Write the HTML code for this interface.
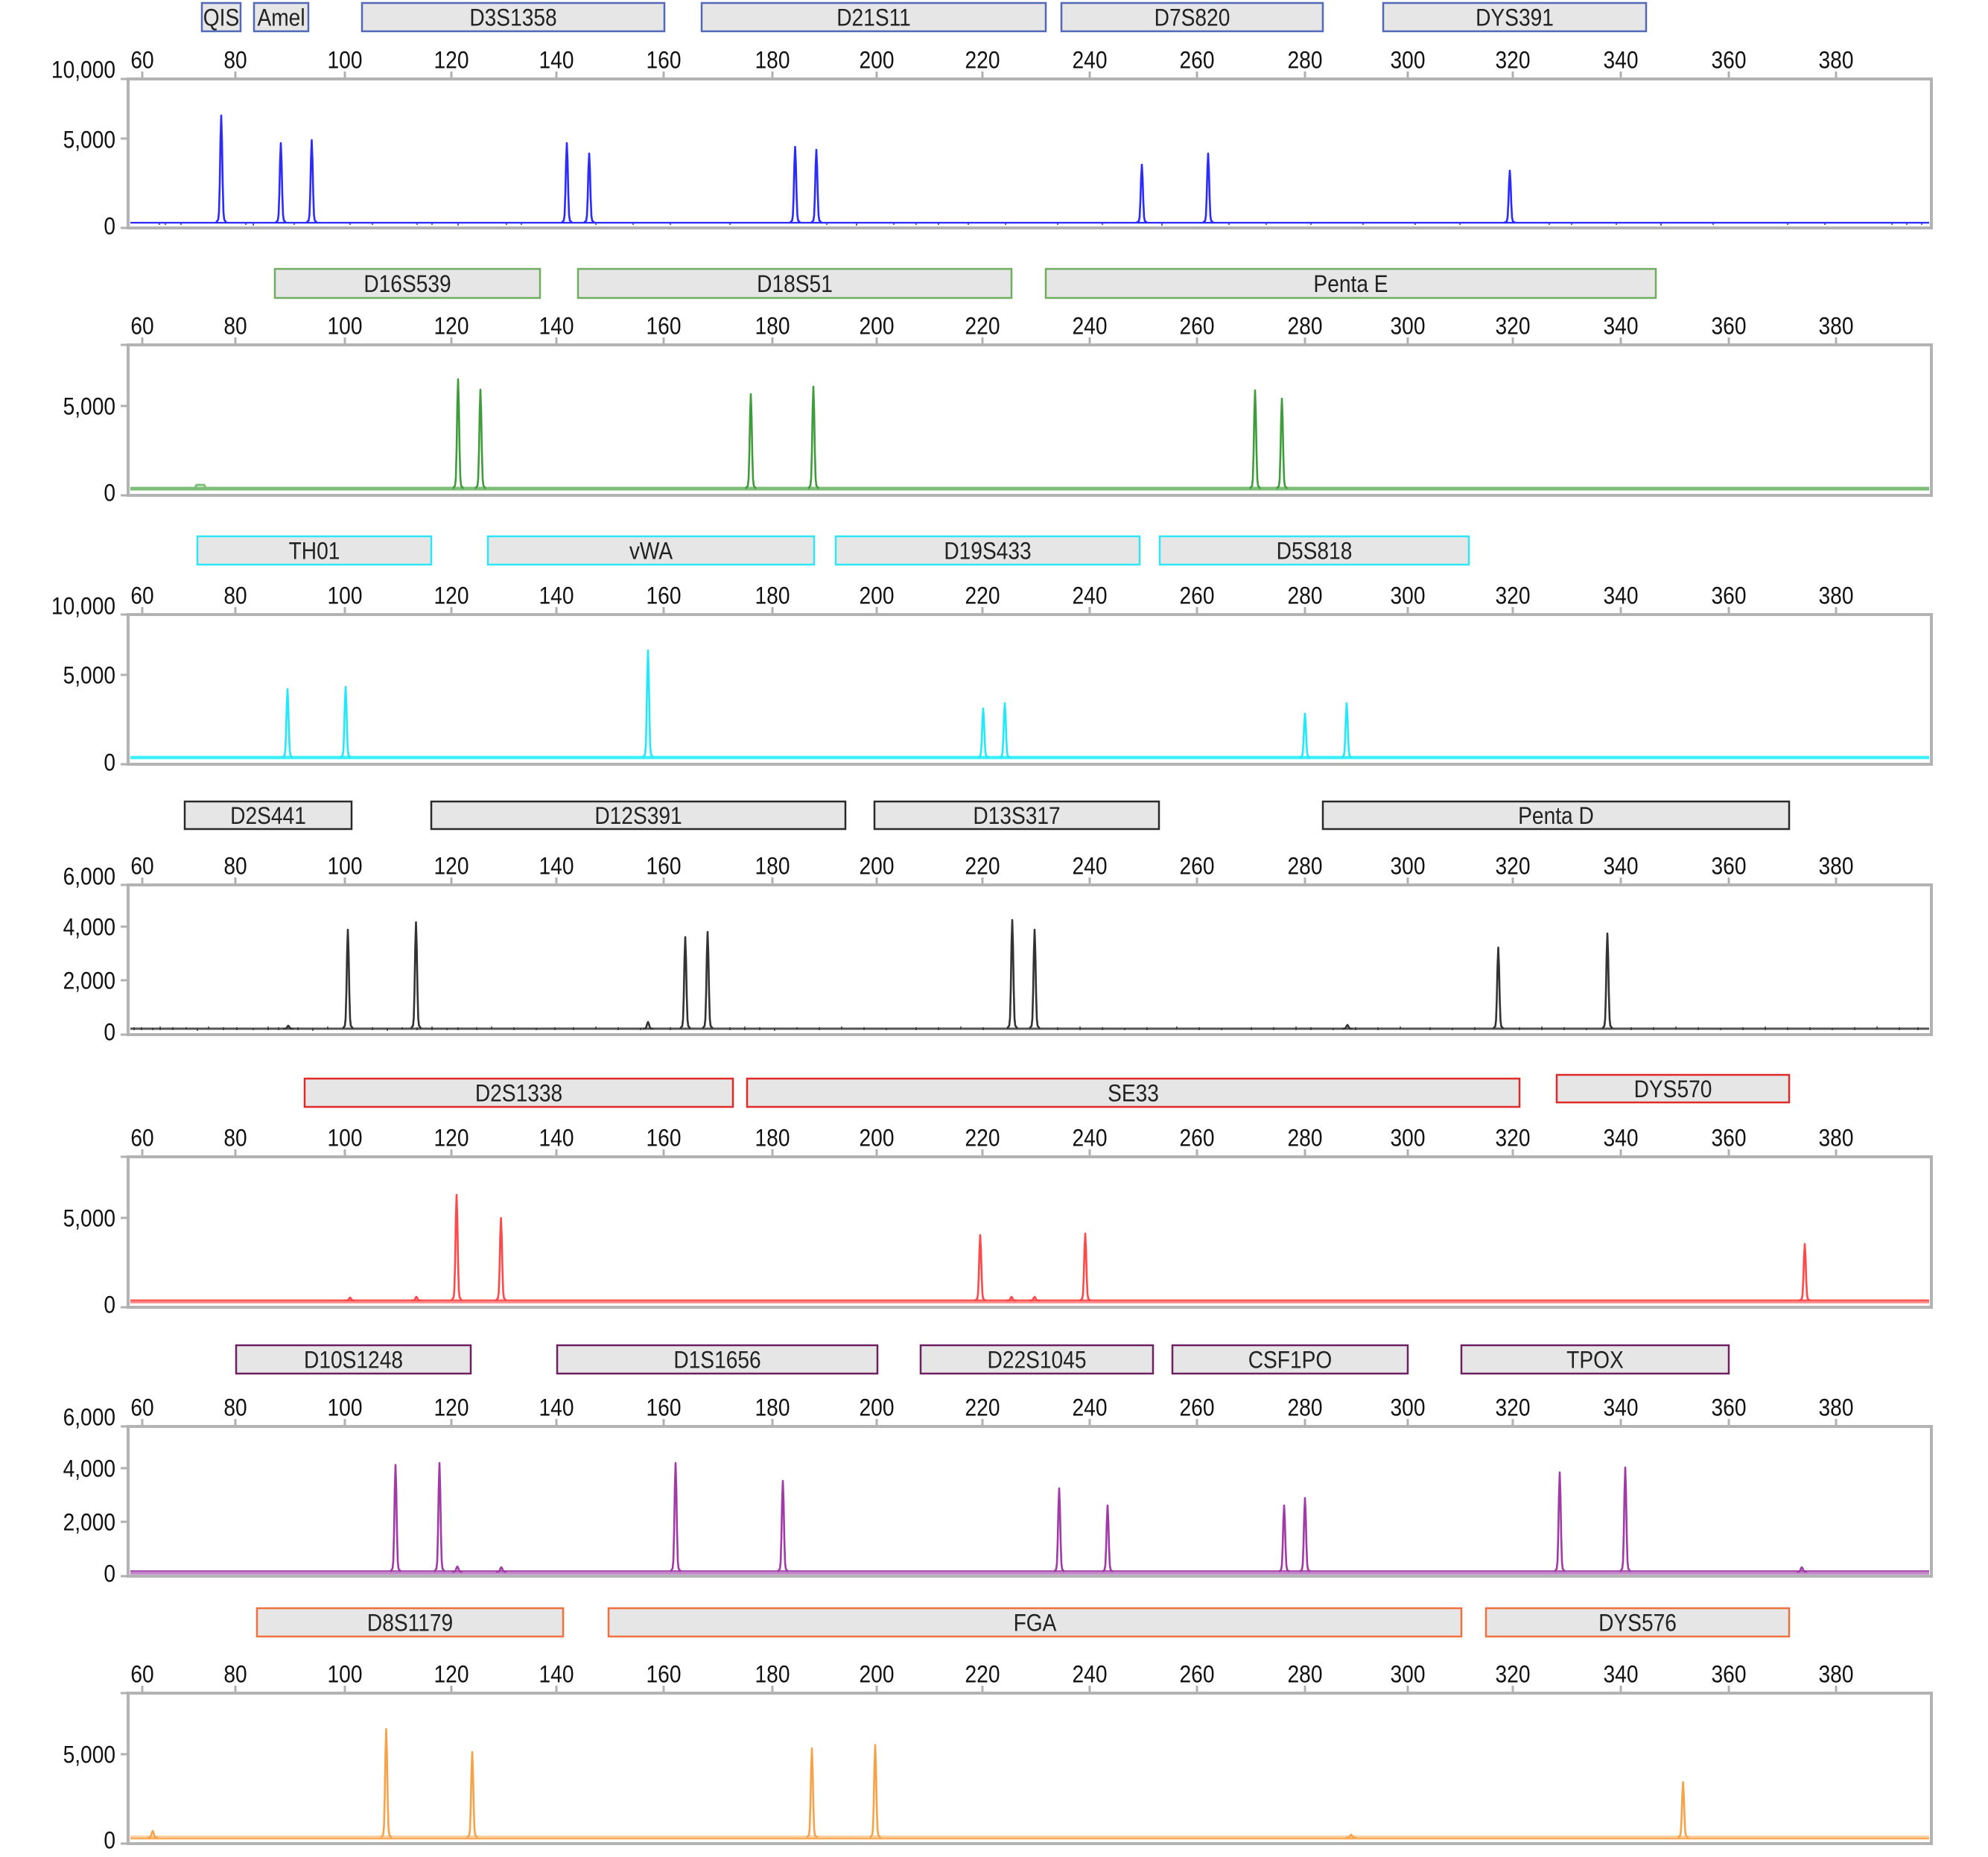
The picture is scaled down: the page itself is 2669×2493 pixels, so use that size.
<!DOCTYPE html>
<html><head><meta charset="utf-8"><style>
html,body{margin:0;padding:0;background:#fff;}
svg{display:block}
text{font-family:"Liberation Sans",Arial,sans-serif;font-size:32px;}
.tl{fill:#111;text-anchor:middle}
.yl{fill:#111;text-anchor:end}
.bl{fill:#222;text-anchor:middle}
.frame{fill:#fff;stroke:#b3b3b3;stroke-width:4}
.tk{stroke:#b0b0b0;stroke-width:3;fill:none}
</style></head><body>
<svg width="2669" height="2493" viewBox="0 0 2669 2493" xmlns="http://www.w3.org/2000/svg">
<defs>
<path id="pk" d="M-7 0 L-4 -0.03 L-3 -0.1 L-2 -0.36 L-1 -0.77 L0 -1 L1 -0.77 L2 -0.36 L3 -0.1 L4 -0.03 L7 0" fill="none" vector-effect="non-scaling-stroke"/>
</defs>
<rect width="2669" height="2493" fill="#fff"/>

<!-- ================= PANEL 1 (blue) ================= -->
<g transform="translate(0,106)">
<g stroke="#5468b8" stroke-width="2.5" fill="#e6e6e6">
<rect x="271" y="-102" width="52" height="38"/><rect x="341" y="-102" width="73" height="38"/><rect x="486" y="-102" width="406" height="38"/><rect x="942" y="-102" width="462" height="38"/><rect x="1425" y="-102" width="351" height="38"/><rect x="1857" y="-102" width="353" height="38"/>
</g>
<text class="bl" transform="translate(297 -71.5) scale(.88 1)">QIS</text>
<text class="bl" transform="translate(377.5 -71.5) scale(.88 1)">Amel</text>
<text class="bl" transform="translate(689 -71.5) scale(.88 1)">D3S1358</text>
<text class="bl" transform="translate(1173 -71.5) scale(.88 1)">D21S11</text>
<text class="bl" transform="translate(1600.5 -71.5) scale(.88 1)">D7S820</text>
<text class="bl" transform="translate(2033.5 -71.5) scale(.88 1)">DYS391</text>
<path class="tk" d="M191-10v10M316-10v10M463-10v10M606-10v10M747-10v10M891-10v10M1037-10v10M1177-10v10M1319-10v10M1463-10v10M1607-10v10M1752-10v10M1890-10v10M2031-10v10M2176-10v10M2321-10v10M2465-10v10"/>
<text class="tl" transform="translate(191 -14.5) scale(.88 1)">60</text><text class="tl" transform="translate(316 -14.5) scale(.88 1)">80</text><text class="tl" transform="translate(463 -14.5) scale(.88 1)">100</text><text class="tl" transform="translate(606 -14.5) scale(.88 1)">120</text><text class="tl" transform="translate(747 -14.5) scale(.88 1)">140</text><text class="tl" transform="translate(891 -14.5) scale(.88 1)">160</text><text class="tl" transform="translate(1037 -14.5) scale(.88 1)">180</text><text class="tl" transform="translate(1177 -14.5) scale(.88 1)">200</text><text class="tl" transform="translate(1319 -14.5) scale(.88 1)">220</text><text class="tl" transform="translate(1463 -14.5) scale(.88 1)">240</text><text class="tl" transform="translate(1607 -14.5) scale(.88 1)">260</text><text class="tl" transform="translate(1752 -14.5) scale(.88 1)">280</text><text class="tl" transform="translate(1890 -14.5) scale(.88 1)">300</text><text class="tl" transform="translate(2031 -14.5) scale(.88 1)">320</text><text class="tl" transform="translate(2176 -14.5) scale(.88 1)">340</text><text class="tl" transform="translate(2321 -14.5) scale(.88 1)">360</text><text class="tl" transform="translate(2465 -14.5) scale(.88 1)">380</text>
<rect class="frame" x="172" y="0" width="2421" height="200"/>
<path class="tk" d="M162 0h10M162 200h10M162 80h10"/>
<text class="yl" transform="translate(155 -1.5) scale(.88 1)">10,000</text>
<text class="yl" transform="translate(155 92.5) scale(.88 1)">5,000</text>
<text class="yl" transform="translate(155 208.5) scale(.88 1)">0</text>
<g stroke="#2b2bff" stroke-width="2.6" fill="none" stroke-linejoin="round">
<path stroke-width="2.2" d="M175 193H2590"/>
<path stroke-width="1.5" d="M214 193v3M222 193v3M243 193v3M330 193v3M340 193v4M395 193v3M470 193v3M500 193v3M560 193v3M580 193v3M615 193v4M680 193v3M700 193v3M800 193v3M850 193v3M900 193v3M980 193v3M1110 193v3M1150 193v4M1200 193v3M1230 193v3M1260 193v3M1300 193v3M1350 193v3M1420 193v3M1480 193v3M1560 193v4M1650 193v3M1700 193v3M1760 193v3M1830 193v3M1900 193v3M1960 193v3M2080 193v3M2110 193v3M2170 193v3M2230 193v4M2300 193v3M2400 193v3M2450 193v3M2540 193v3M2560 193v3M2580 193v3"/>
<use href="#pk" transform="translate(297 193) scale(1 144)"/>
<use href="#pk" transform="translate(377 193) scale(1 107)"/>
<use href="#pk" transform="translate(418.5 193) scale(1 111)"/>
<use href="#pk" transform="translate(761 193) scale(1 107)"/>
<use href="#pk" transform="translate(791 193) scale(1 93)"/>
<use href="#pk" transform="translate(1067.5 193) scale(1 102)"/>
<use href="#pk" transform="translate(1096 193) scale(1 98)"/>
<use href="#pk" transform="translate(1533 193) scale(1 78)"/>
<use href="#pk" transform="translate(1622 193) scale(1 93)"/>
<use href="#pk" transform="translate(2027 193) scale(1 70)"/>
</g>
</g>

<!-- ================= PANEL 2 (green) ================= -->
<g transform="translate(0,463)">
<g stroke="#6fae5f" stroke-width="2.5" fill="#e6e6e6">
<rect x="369" y="-102" width="356" height="39"/><rect x="776" y="-102" width="582" height="39"/><rect x="1404" y="-102" width="819" height="39"/>
</g>
<text class="bl" transform="translate(547 -71) scale(.88 1)">D16S539</text>
<text class="bl" transform="translate(1067 -71) scale(.88 1)">D18S51</text>
<text class="bl" transform="translate(1813.5 -71) scale(.88 1)">Penta E</text>
<path class="tk" d="M191-10v10M316-10v10M463-10v10M606-10v10M747-10v10M891-10v10M1037-10v10M1177-10v10M1319-10v10M1463-10v10M1607-10v10M1752-10v10M1890-10v10M2031-10v10M2176-10v10M2321-10v10M2465-10v10"/>
<text class="tl" transform="translate(191 -14.5) scale(.88 1)">60</text><text class="tl" transform="translate(316 -14.5) scale(.88 1)">80</text><text class="tl" transform="translate(463 -14.5) scale(.88 1)">100</text><text class="tl" transform="translate(606 -14.5) scale(.88 1)">120</text><text class="tl" transform="translate(747 -14.5) scale(.88 1)">140</text><text class="tl" transform="translate(891 -14.5) scale(.88 1)">160</text><text class="tl" transform="translate(1037 -14.5) scale(.88 1)">180</text><text class="tl" transform="translate(1177 -14.5) scale(.88 1)">200</text><text class="tl" transform="translate(1319 -14.5) scale(.88 1)">220</text><text class="tl" transform="translate(1463 -14.5) scale(.88 1)">240</text><text class="tl" transform="translate(1607 -14.5) scale(.88 1)">260</text><text class="tl" transform="translate(1752 -14.5) scale(.88 1)">280</text><text class="tl" transform="translate(1890 -14.5) scale(.88 1)">300</text><text class="tl" transform="translate(2031 -14.5) scale(.88 1)">320</text><text class="tl" transform="translate(2176 -14.5) scale(.88 1)">340</text><text class="tl" transform="translate(2321 -14.5) scale(.88 1)">360</text><text class="tl" transform="translate(2465 -14.5) scale(.88 1)">380</text>
<rect class="frame" x="172" y="0" width="2421" height="202"/>
<path class="tk" d="M162 0h10M162 202h10M162 82h10"/>
<text class="yl" transform="translate(155 93.5) scale(.88 1)">5,000</text>
<text class="yl" transform="translate(155 209.5) scale(.88 1)">0</text>
<path d="M175 193H2590" stroke="#7dbf79" stroke-width="5" fill="none"/>
<path d="M261 193l3 -5h10l3 5" stroke="#7dbf79" stroke-width="3" fill="none"/>
<g stroke="#3f9c3b" stroke-width="2.6" fill="none" stroke-linejoin="round">
<use href="#pk" transform="translate(615 193) scale(1 147)"/>
<use href="#pk" transform="translate(645 193) scale(1 133)"/>
<use href="#pk" transform="translate(1008 193) scale(1 127)"/>
<use href="#pk" transform="translate(1092 193) scale(1 137)"/>
<use href="#pk" transform="translate(1685 193) scale(1 132)"/>
<use href="#pk" transform="translate(1721 193) scale(1 121)"/>
</g>
</g>

<!-- ================= PANEL 3 (cyan) ================= -->
<g transform="translate(0,825)">
<g stroke="#2fe6f6" stroke-width="2.5" fill="#e6e6e6">
<rect x="265" y="-105" width="314" height="38"/><rect x="655" y="-105" width="438" height="38"/><rect x="1122" y="-105" width="408" height="38"/><rect x="1557" y="-105" width="415" height="38"/>
</g>
<text class="bl" transform="translate(422 -74.5) scale(.88 1)">TH01</text>
<text class="bl" transform="translate(874 -74.5) scale(.88 1)">vWA</text>
<text class="bl" transform="translate(1326 -74.5) scale(.88 1)">D19S433</text>
<text class="bl" transform="translate(1764.5 -74.5) scale(.88 1)">D5S818</text>
<path class="tk" d="M191-10v10M316-10v10M463-10v10M606-10v10M747-10v10M891-10v10M1037-10v10M1177-10v10M1319-10v10M1463-10v10M1607-10v10M1752-10v10M1890-10v10M2031-10v10M2176-10v10M2321-10v10M2465-10v10"/>
<text class="tl" transform="translate(191 -14.5) scale(.88 1)">60</text><text class="tl" transform="translate(316 -14.5) scale(.88 1)">80</text><text class="tl" transform="translate(463 -14.5) scale(.88 1)">100</text><text class="tl" transform="translate(606 -14.5) scale(.88 1)">120</text><text class="tl" transform="translate(747 -14.5) scale(.88 1)">140</text><text class="tl" transform="translate(891 -14.5) scale(.88 1)">160</text><text class="tl" transform="translate(1037 -14.5) scale(.88 1)">180</text><text class="tl" transform="translate(1177 -14.5) scale(.88 1)">200</text><text class="tl" transform="translate(1319 -14.5) scale(.88 1)">220</text><text class="tl" transform="translate(1463 -14.5) scale(.88 1)">240</text><text class="tl" transform="translate(1607 -14.5) scale(.88 1)">260</text><text class="tl" transform="translate(1752 -14.5) scale(.88 1)">280</text><text class="tl" transform="translate(1890 -14.5) scale(.88 1)">300</text><text class="tl" transform="translate(2031 -14.5) scale(.88 1)">320</text><text class="tl" transform="translate(2176 -14.5) scale(.88 1)">340</text><text class="tl" transform="translate(2321 -14.5) scale(.88 1)">360</text><text class="tl" transform="translate(2465 -14.5) scale(.88 1)">380</text>
<rect class="frame" x="172" y="0" width="2421" height="201"/>
<path class="tk" d="M162 0h10M162 201h10M162 81h10"/>
<text class="yl" transform="translate(155 -0.5) scale(.88 1)">10,000</text>
<text class="yl" transform="translate(155 92.5) scale(.88 1)">5,000</text>
<text class="yl" transform="translate(155 209.5) scale(.88 1)">0</text>
<path d="M175 192H2590" stroke="#3ff0ff" stroke-width="4.5" fill="none"/>
<g stroke="#22e8fb" stroke-width="2.6" fill="none" stroke-linejoin="round">
<use href="#pk" transform="translate(386 192) scale(1 92)"/>
<use href="#pk" transform="translate(464 192) scale(1 95)"/>
<use href="#pk" transform="translate(870 192) scale(1 144)"/>
<use href="#pk" transform="translate(1320 192) scale(1 66)"/>
<use href="#pk" transform="translate(1349 192) scale(1 73)"/>
<use href="#pk" transform="translate(1752 192) scale(1 59)"/>
<use href="#pk" transform="translate(1808 192) scale(1 73)"/>
</g>
</g>

<!-- ================= PANEL 4 (black) ================= -->
<g transform="translate(0,1188)">
<g stroke="#2a2a2a" stroke-width="2.5" fill="#e6e6e6">
<rect x="248" y="-112" width="224" height="37"/><rect x="579" y="-112" width="556" height="37"/><rect x="1174" y="-112" width="382" height="37"/><rect x="1776" y="-112" width="626" height="37"/>
</g>
<text class="bl" transform="translate(360 -82) scale(.88 1)">D2S441</text>
<text class="bl" transform="translate(857 -82) scale(.88 1)">D12S391</text>
<text class="bl" transform="translate(1365 -82) scale(.88 1)">D13S317</text>
<text class="bl" transform="translate(2089 -82) scale(.88 1)">Penta D</text>
<path class="tk" d="M191-10v10M316-10v10M463-10v10M606-10v10M747-10v10M891-10v10M1037-10v10M1177-10v10M1319-10v10M1463-10v10M1607-10v10M1752-10v10M1890-10v10M2031-10v10M2176-10v10M2321-10v10M2465-10v10"/>
<text class="tl" transform="translate(191 -14.5) scale(.88 1)">60</text><text class="tl" transform="translate(316 -14.5) scale(.88 1)">80</text><text class="tl" transform="translate(463 -14.5) scale(.88 1)">100</text><text class="tl" transform="translate(606 -14.5) scale(.88 1)">120</text><text class="tl" transform="translate(747 -14.5) scale(.88 1)">140</text><text class="tl" transform="translate(891 -14.5) scale(.88 1)">160</text><text class="tl" transform="translate(1037 -14.5) scale(.88 1)">180</text><text class="tl" transform="translate(1177 -14.5) scale(.88 1)">200</text><text class="tl" transform="translate(1319 -14.5) scale(.88 1)">220</text><text class="tl" transform="translate(1463 -14.5) scale(.88 1)">240</text><text class="tl" transform="translate(1607 -14.5) scale(.88 1)">260</text><text class="tl" transform="translate(1752 -14.5) scale(.88 1)">280</text><text class="tl" transform="translate(1890 -14.5) scale(.88 1)">300</text><text class="tl" transform="translate(2031 -14.5) scale(.88 1)">320</text><text class="tl" transform="translate(2176 -14.5) scale(.88 1)">340</text><text class="tl" transform="translate(2321 -14.5) scale(.88 1)">360</text><text class="tl" transform="translate(2465 -14.5) scale(.88 1)">380</text>
<rect class="frame" x="172" y="0" width="2421" height="201"/>
<path class="tk" d="M162 0h10M162 201h10M162 56h10M162 128h10"/>
<text class="yl" transform="translate(155 -0.5) scale(.88 1)">6,000</text>
<text class="yl" transform="translate(155 67.5) scale(.88 1)">4,000</text>
<text class="yl" transform="translate(155 139.5) scale(.88 1)">2,000</text>
<text class="yl" transform="translate(155 208.5) scale(.88 1)">0</text>
<g stroke="#333" stroke-width="2.6" fill="none" stroke-linejoin="round">
<path stroke="#555" stroke-width="3" d="M175 193H2590"/>
<path stroke-width="1.4" d="M180 191v4M190 191v4M205 192v3M215 190v5M232 191v4M250 191v3M265 192v4M280 190v4M300 191v4M318 191v4M340 192v3M360 190v5M374 191v4M400 191v4M420 192v4M440 190v4M500 191v4M520 192v4M540 191v3M560 191v4M580 190v5M600 192v3M615 191v4M640 191v4M660 190v4M690 191v4M720 192v3M745 191v4M770 191v4M800 190v4M830 191v4M860 192v3M900 191v4M980 191v4M1000 190v5M1020 191v4M1040 192v4M1070 191v3M1100 191v4M1130 190v4M1160 191v4M1190 192v3M1230 191v4M1260 191v4M1290 190v4M1320 191v4M1420 191v4M1450 190v5M1480 191v4M1510 192v3M1540 191v4M1580 190v4M1610 191v4M1640 192v3M1680 191v4M1710 191v4M1740 190v5M1760 191v4M1790 192v3M1820 191v4M1850 191v4M1880 190v4M1920 191v4M1950 192v3M1980 191v4M2040 191v4M2070 190v5M2100 191v4M2130 192v3M2190 191v4M2220 191v4M2250 190v4M2280 191v4M2310 192v3M2340 191v4M2370 190v5M2400 191v4M2430 191v4M2460 192v3M2490 191v4M2520 190v4M2550 191v4M2575 191v4"/>
<use href="#pk" transform="translate(387 193) scale(1 4)"/>
<use href="#pk" transform="translate(870 193) scale(1 9)"/>
<use href="#pk" transform="translate(1809 193) scale(1 5)"/>
<use href="#pk" transform="translate(467 193) scale(1 133)"/>
<use href="#pk" transform="translate(558.5 193) scale(1 143)"/>
<use href="#pk" transform="translate(920 193) scale(1 123)"/>
<use href="#pk" transform="translate(950 193) scale(1 130)"/>
<use href="#pk" transform="translate(1359 193) scale(1 146)"/>
<use href="#pk" transform="translate(1389 193) scale(1 133)"/>
<use href="#pk" transform="translate(2011.5 193) scale(1 109)"/>
<use href="#pk" transform="translate(2158 193) scale(1 128)"/>
</g>
</g>

<!-- ================= PANEL 5 (red) ================= -->
<g transform="translate(0,1553)">
<g stroke="#e02a2a" stroke-width="2.5" fill="#e6e6e6">
<rect x="409" y="-105" width="575" height="38"/><rect x="1003" y="-105" width="1037" height="38"/><rect x="2090" y="-110" width="312" height="37"/>
</g>
<text class="bl" transform="translate(696.5 -74.5) scale(.88 1)">D2S1338</text>
<text class="bl" transform="translate(1521.5 -74.5) scale(.88 1)">SE33</text>
<text class="bl" transform="translate(2246 -80) scale(.88 1)">DYS570</text>
<path class="tk" d="M191-10v10M316-10v10M463-10v10M606-10v10M747-10v10M891-10v10M1037-10v10M1177-10v10M1319-10v10M1463-10v10M1607-10v10M1752-10v10M1890-10v10M2031-10v10M2176-10v10M2321-10v10M2465-10v10"/>
<text class="tl" transform="translate(191 -14.5) scale(.88 1)">60</text><text class="tl" transform="translate(316 -14.5) scale(.88 1)">80</text><text class="tl" transform="translate(463 -14.5) scale(.88 1)">100</text><text class="tl" transform="translate(606 -14.5) scale(.88 1)">120</text><text class="tl" transform="translate(747 -14.5) scale(.88 1)">140</text><text class="tl" transform="translate(891 -14.5) scale(.88 1)">160</text><text class="tl" transform="translate(1037 -14.5) scale(.88 1)">180</text><text class="tl" transform="translate(1177 -14.5) scale(.88 1)">200</text><text class="tl" transform="translate(1319 -14.5) scale(.88 1)">220</text><text class="tl" transform="translate(1463 -14.5) scale(.88 1)">240</text><text class="tl" transform="translate(1607 -14.5) scale(.88 1)">260</text><text class="tl" transform="translate(1752 -14.5) scale(.88 1)">280</text><text class="tl" transform="translate(1890 -14.5) scale(.88 1)">300</text><text class="tl" transform="translate(2031 -14.5) scale(.88 1)">320</text><text class="tl" transform="translate(2176 -14.5) scale(.88 1)">340</text><text class="tl" transform="translate(2321 -14.5) scale(.88 1)">360</text><text class="tl" transform="translate(2465 -14.5) scale(.88 1)">380</text>
<rect class="frame" x="172" y="0" width="2421" height="202"/>
<path class="tk" d="M162 0h10M162 202h10M162 82h10"/>
<text class="yl" transform="translate(155 93.5) scale(.88 1)">5,000</text>
<text class="yl" transform="translate(155 209.5) scale(.88 1)">0</text>
<path d="M175 194H2590" stroke="#ff8c8c" stroke-width="5.5" fill="none"/>
<g stroke="#ff4848" stroke-width="2.6" fill="none" stroke-linejoin="round">
<path stroke-width="1.5" d="M175 193H2590"/>
<use href="#pk" transform="translate(470 193) scale(1 4)"/>
<use href="#pk" transform="translate(559 193) scale(1 5)"/>
<use href="#pk" transform="translate(1358 193) scale(1 5)"/>
<use href="#pk" transform="translate(1389 193) scale(1 5)"/>
<use href="#pk" transform="translate(613 193) scale(1 142)"/>
<use href="#pk" transform="translate(672.6 193) scale(1 111)"/>
<use href="#pk" transform="translate(1316 193) scale(1 88)"/>
<use href="#pk" transform="translate(1457 193) scale(1 90)"/>
<use href="#pk" transform="translate(2423 193) scale(1 76)"/>
</g>
</g>

<!-- ================= PANEL 6 (purple) ================= -->
<g transform="translate(0,1915)">
<g stroke="#6e2060" stroke-width="2.5" fill="#e6e6e6">
<rect x="317" y="-109" width="315" height="38"/><rect x="748" y="-109" width="430" height="38"/><rect x="1236" y="-109" width="312" height="38"/><rect x="1574" y="-109" width="316" height="38"/><rect x="1962" y="-109" width="359" height="38"/>
</g>
<text class="bl" transform="translate(474.5 -78.5) scale(.88 1)">D10S1248</text>
<text class="bl" transform="translate(963 -78.5) scale(.88 1)">D1S1656</text>
<text class="bl" transform="translate(1392 -78.5) scale(.88 1)">D22S1045</text>
<text class="bl" transform="translate(1732 -78.5) scale(.88 1)">CSF1PO</text>
<text class="bl" transform="translate(2141.5 -78.5) scale(.88 1)">TPOX</text>
<path class="tk" d="M191-10v10M316-10v10M463-10v10M606-10v10M747-10v10M891-10v10M1037-10v10M1177-10v10M1319-10v10M1463-10v10M1607-10v10M1752-10v10M1890-10v10M2031-10v10M2176-10v10M2321-10v10M2465-10v10"/>
<text class="tl" transform="translate(191 -14.5) scale(.88 1)">60</text><text class="tl" transform="translate(316 -14.5) scale(.88 1)">80</text><text class="tl" transform="translate(463 -14.5) scale(.88 1)">100</text><text class="tl" transform="translate(606 -14.5) scale(.88 1)">120</text><text class="tl" transform="translate(747 -14.5) scale(.88 1)">140</text><text class="tl" transform="translate(891 -14.5) scale(.88 1)">160</text><text class="tl" transform="translate(1037 -14.5) scale(.88 1)">180</text><text class="tl" transform="translate(1177 -14.5) scale(.88 1)">200</text><text class="tl" transform="translate(1319 -14.5) scale(.88 1)">220</text><text class="tl" transform="translate(1463 -14.5) scale(.88 1)">240</text><text class="tl" transform="translate(1607 -14.5) scale(.88 1)">260</text><text class="tl" transform="translate(1752 -14.5) scale(.88 1)">280</text><text class="tl" transform="translate(1890 -14.5) scale(.88 1)">300</text><text class="tl" transform="translate(2031 -14.5) scale(.88 1)">320</text><text class="tl" transform="translate(2176 -14.5) scale(.88 1)">340</text><text class="tl" transform="translate(2321 -14.5) scale(.88 1)">360</text><text class="tl" transform="translate(2465 -14.5) scale(.88 1)">380</text>
<rect class="frame" x="172" y="0" width="2421" height="201"/>
<path class="tk" d="M162 0h10M162 201h10M162 56h10M162 128h10"/>
<text class="yl" transform="translate(155 -1.5) scale(.88 1)">6,000</text>
<text class="yl" transform="translate(155 67.5) scale(.88 1)">4,000</text>
<text class="yl" transform="translate(155 139.5) scale(.88 1)">2,000</text>
<text class="yl" transform="translate(155 208.5) scale(.88 1)">0</text>
<path d="M175 196H2590" stroke="#c285c8" stroke-width="5.5" fill="none"/>
<g stroke="#a13aa7" stroke-width="2.6" fill="none" stroke-linejoin="round">
<path stroke-width="1.5" d="M175 194H2590"/>
<use href="#pk" transform="translate(614 195) scale(1 7)"/>
<use href="#pk" transform="translate(673 195) scale(1 6)"/>
<use href="#pk" transform="translate(2419 195) scale(1 6)"/>
<use href="#pk" transform="translate(531 195) scale(1 143.5)"/>
<use href="#pk" transform="translate(590 195) scale(1 146)"/>
<use href="#pk" transform="translate(907 195) scale(1 146)"/>
<use href="#pk" transform="translate(1051 195) scale(1 122)"/>
<use href="#pk" transform="translate(1422 195) scale(1 112)"/>
<use href="#pk" transform="translate(1487 195) scale(1 89)"/>
<use href="#pk" transform="translate(1724 195) scale(1 89)"/>
<use href="#pk" transform="translate(1752 195) scale(1 99)"/>
<use href="#pk" transform="translate(2094 195) scale(1 133.5)"/>
<use href="#pk" transform="translate(2182 195) scale(1 140)"/>
</g>
</g>

<!-- ================= PANEL 7 (orange) ================= -->
<g transform="translate(0,2273)">
<g stroke="#f07040" stroke-width="2.5" fill="#e6e6e6">
<rect x="345" y="-114" width="411" height="38"/><rect x="817" y="-114" width="1145" height="38"/><rect x="1995" y="-114" width="407" height="38"/>
</g>
<text class="bl" transform="translate(550.5 -83.5) scale(.88 1)">D8S1179</text>
<text class="bl" transform="translate(1389.5 -83.5) scale(.88 1)">FGA</text>
<text class="bl" transform="translate(2198.5 -83.5) scale(.88 1)">DYS576</text>
<path class="tk" d="M191-10v10M316-10v10M463-10v10M606-10v10M747-10v10M891-10v10M1037-10v10M1177-10v10M1319-10v10M1463-10v10M1607-10v10M1752-10v10M1890-10v10M2031-10v10M2176-10v10M2321-10v10M2465-10v10"/>
<text class="tl" transform="translate(191 -14.5) scale(.88 1)">60</text><text class="tl" transform="translate(316 -14.5) scale(.88 1)">80</text><text class="tl" transform="translate(463 -14.5) scale(.88 1)">100</text><text class="tl" transform="translate(606 -14.5) scale(.88 1)">120</text><text class="tl" transform="translate(747 -14.5) scale(.88 1)">140</text><text class="tl" transform="translate(891 -14.5) scale(.88 1)">160</text><text class="tl" transform="translate(1037 -14.5) scale(.88 1)">180</text><text class="tl" transform="translate(1177 -14.5) scale(.88 1)">200</text><text class="tl" transform="translate(1319 -14.5) scale(.88 1)">220</text><text class="tl" transform="translate(1463 -14.5) scale(.88 1)">240</text><text class="tl" transform="translate(1607 -14.5) scale(.88 1)">260</text><text class="tl" transform="translate(1752 -14.5) scale(.88 1)">280</text><text class="tl" transform="translate(1890 -14.5) scale(.88 1)">300</text><text class="tl" transform="translate(2031 -14.5) scale(.88 1)">320</text><text class="tl" transform="translate(2176 -14.5) scale(.88 1)">340</text><text class="tl" transform="translate(2321 -14.5) scale(.88 1)">360</text><text class="tl" transform="translate(2465 -14.5) scale(.88 1)">380</text>
<rect class="frame" x="172" y="0" width="2421" height="202"/>
<path class="tk" d="M162 0h10M162 202h10M162 82h10"/>
<text class="yl" transform="translate(155 93.5) scale(.88 1)">5,000</text>
<text class="yl" transform="translate(155 208.5) scale(.88 1)">0</text>
<path d="M175 194H2590" stroke="#fdcf9f" stroke-width="5.5" fill="none"/>
<g stroke="#f8a248" stroke-width="2.6" fill="none" stroke-linejoin="round">
<path stroke-width="1.5" d="M175 195H2590"/>
<use href="#pk" transform="translate(205 194) scale(1 9)"/>
<use href="#pk" transform="translate(1814 194) scale(1 4)"/>
<use href="#pk" transform="translate(518.5 194) scale(1 146)"/>
<use href="#pk" transform="translate(634 194) scale(1 115)"/>
<use href="#pk" transform="translate(1090 194) scale(1 120)"/>
<use href="#pk" transform="translate(1175 194) scale(1 124.5)"/>
<use href="#pk" transform="translate(2259.6 194) scale(1 74.5)"/>
</g>
</g>
</svg>
</body></html>
